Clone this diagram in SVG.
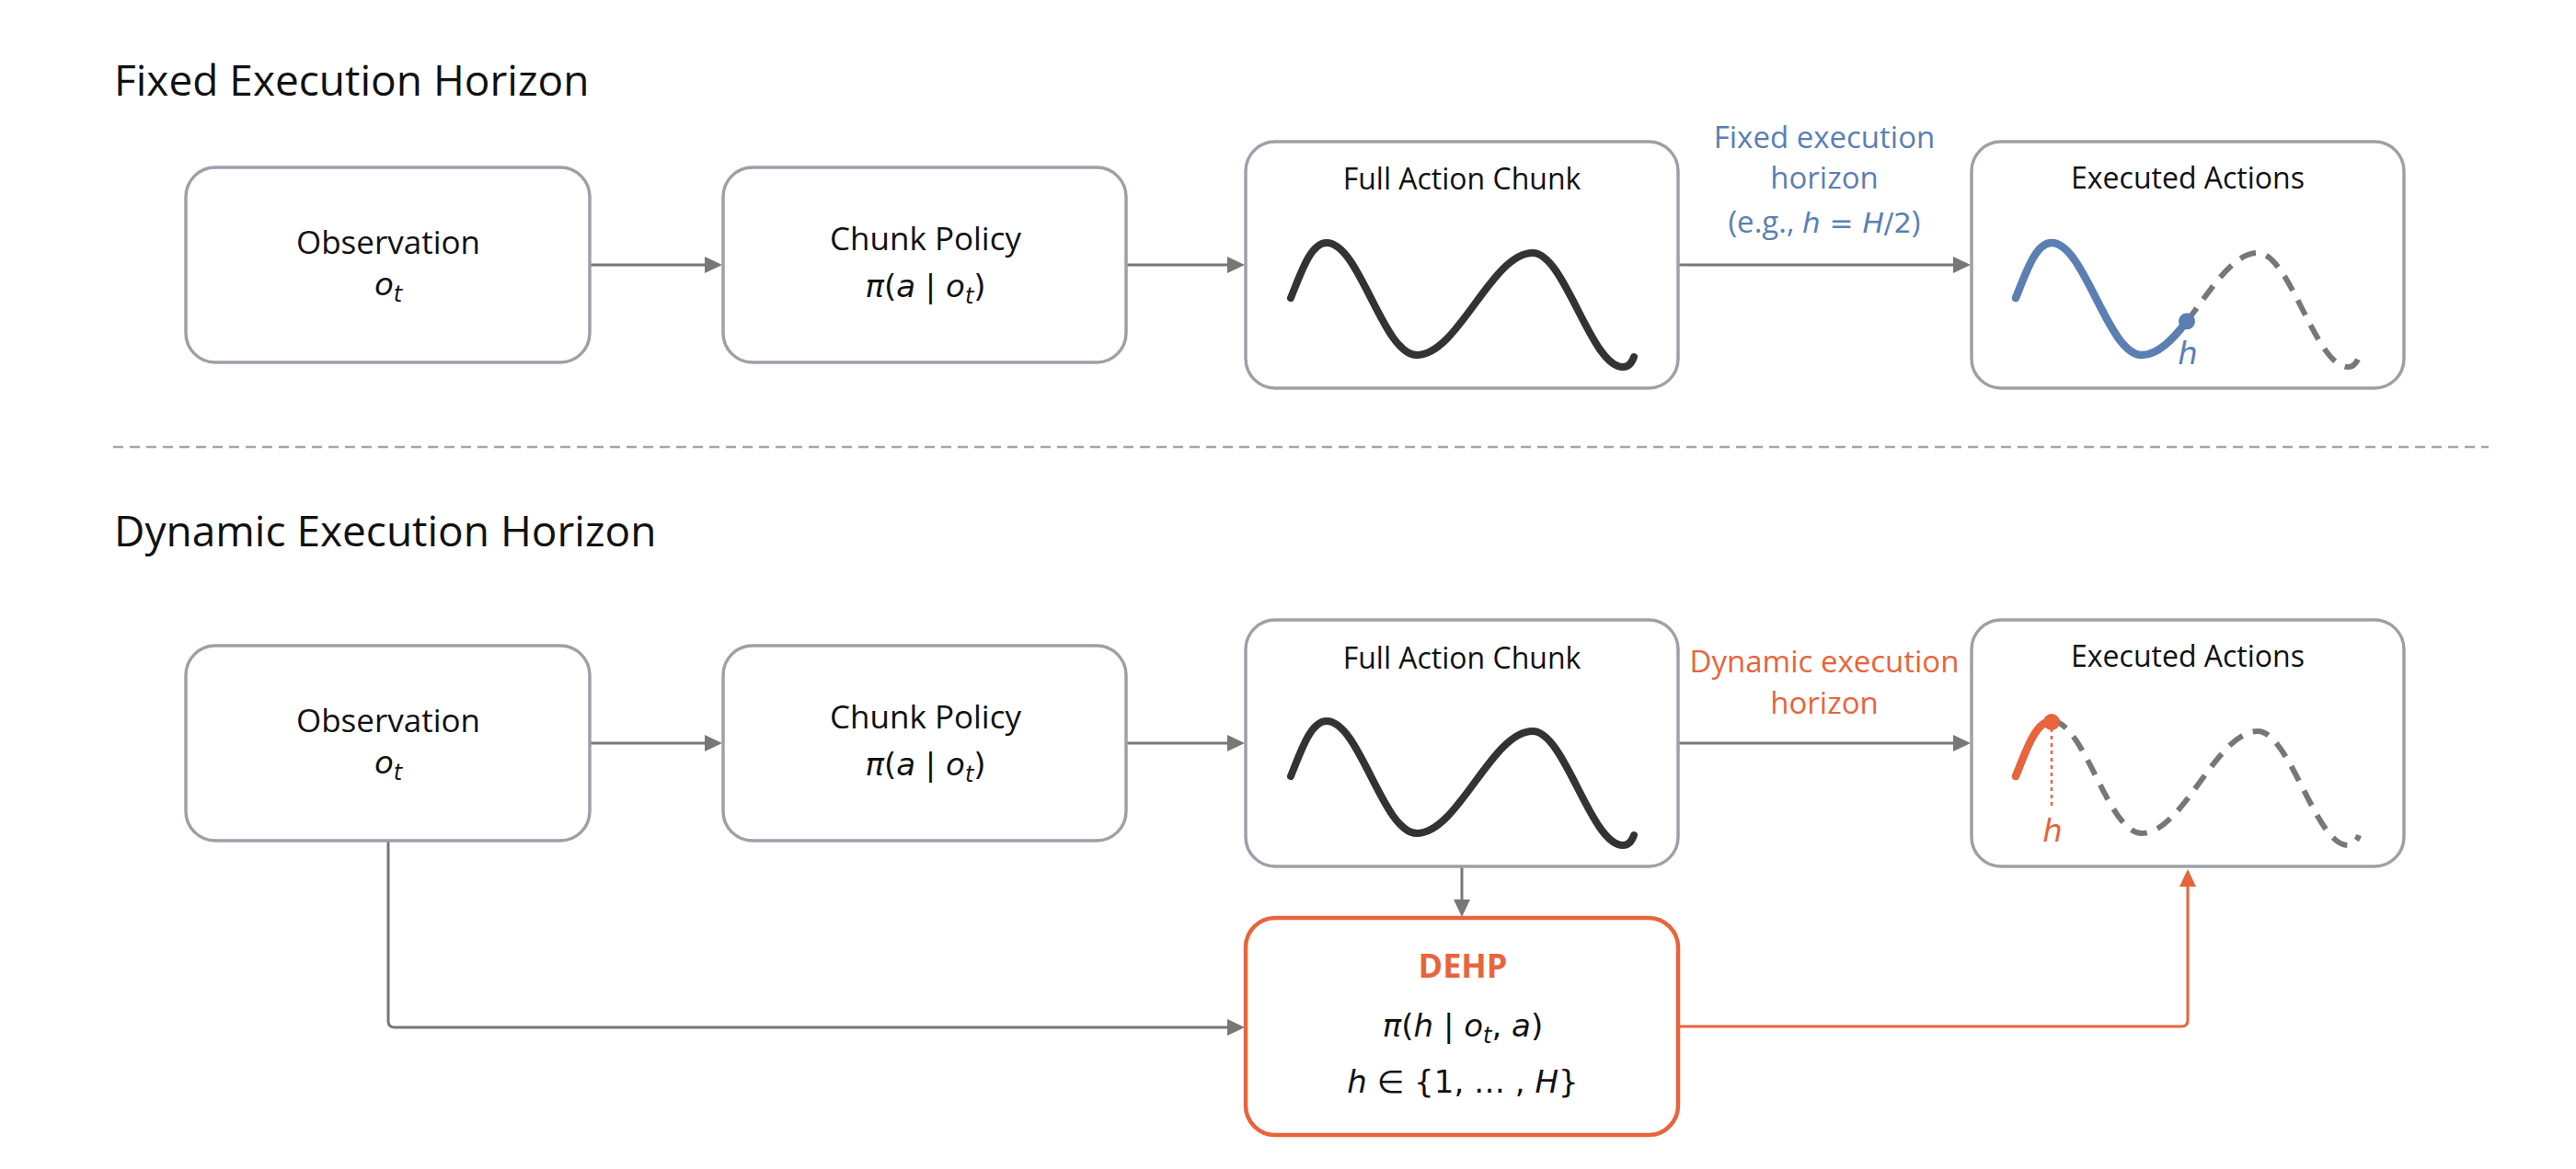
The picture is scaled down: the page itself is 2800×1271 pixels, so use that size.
<svg xmlns="http://www.w3.org/2000/svg" width="2800" height="1271" viewBox="0 0 2800 1271">
<defs>
<style>
.box{fill:#ffffff;stroke:#9ca1a8;stroke-width:3.5}
.dehp{fill:#ffffff;stroke:#e8643c;stroke-width:4.5}
.t{font-family:"Open Sans","Liberation Sans",sans-serif;fill:#111111;text-anchor:middle}
.title{font-family:"Open Sans","Liberation Sans",sans-serif;fill:#111111;font-size:46px}
.lbl{font-size:35px}
.hdr{font-size:32px}
.m{font-family:"DejaVu Sans",sans-serif;fill:#111111;text-anchor:middle;font-size:34px}
.it{font-style:italic}
.sub{font-size:24px}
.conn{fill:none;stroke:#777777;stroke-width:3}
.oconn{fill:none;stroke:#e8643c;stroke-width:3}
.wave{fill:none;stroke:#333333;stroke-width:8;stroke-linecap:round;stroke-linejoin:round}
.blue{fill:none;stroke:#5b7fb2;stroke-width:8.5;stroke-linecap:round}
.orange{fill:none;stroke:#e8643c;stroke-width:8.5;stroke-linecap:round}
.dash{fill:none;stroke:#777777;stroke-width:6;stroke-dasharray:18 12}
</style>
<marker id="ag" markerUnits="userSpaceOnUse" markerWidth="19" markerHeight="18" refX="1" refY="9" orient="auto">
<path d="M0 0 L19 9 L0 18 Z" fill="#777777"/>
</marker>
<marker id="ao" markerUnits="userSpaceOnUse" markerWidth="19" markerHeight="18" refX="1" refY="9" orient="auto">
<path d="M0 0 L19 9 L0 18 Z" fill="#e8643c"/>
</marker>
<path id="w" d="M0 0 C12 -30 22 -60 39 -60 C75 -60 100 62 137 62 C182 62 218 -49 263 -49 C298 -49 326 75 361 75 C367 75 371 70 373 64"/>
</defs>
<rect width="2800" height="1271" fill="#ffffff"/>

<text class="title" x="124" y="104">Fixed Execution Horizon</text>
<text class="title" x="124" y="594">Dynamic Execution Horizon</text>
<line x1="123" y1="486" x2="2705" y2="486" stroke="#a0a6b0" stroke-width="2.5" stroke-dasharray="11 7"/>

<g id="connectors">
<path class="conn" d="M641 288 H767" marker-end="url(#ag)"/>
<path class="conn" d="M1224 288 H1335" marker-end="url(#ag)"/>
<path class="conn" d="M1824 288 H2124" marker-end="url(#ag)"/>
<path class="conn" d="M641 808 H767" marker-end="url(#ag)"/>
<path class="conn" d="M1224 808 H1335" marker-end="url(#ag)"/>
<path class="conn" d="M1824 808 H2124" marker-end="url(#ag)"/>
<path class="conn" d="M1589 943 V979" marker-end="url(#ag)"/>
<path class="conn" d="M422 915 V1110 Q422 1117 429 1117 H1335" marker-end="url(#ag)"/>
<path class="oconn" d="M1826 1116 H2371 Q2378 1116 2378 1109 V963" marker-end="url(#ao)"/>
<text class="t" x="1983" y="161" font-size="33" style="fill:#5b7fb2">Fixed execution</text>
<text class="t" x="1983" y="205" font-size="33" style="fill:#5b7fb2">horizon</text>
<text class="t" x="1983" y="253" font-size="33" style="fill:#5b7fb2">(e.g., <tspan font-family="DejaVu Sans" font-style="italic" font-size="31">h</tspan><tspan font-family="DejaVu Sans" font-size="31"> = </tspan><tspan font-family="DejaVu Sans" font-style="italic" font-size="31">H</tspan><tspan font-family="DejaVu Sans" font-size="31">/2</tspan>)</text>
<text class="t" x="1983" y="731" font-size="33" style="fill:#e8643c">Dynamic execution</text>
<text class="t" x="1983" y="776" font-size="33" style="fill:#e8643c">horizon</text>
</g>

<g id="obs-fixed">
<rect class="box" x="202" y="182" width="439" height="212" rx="32"/>
<text class="t lbl" x="422" y="276">Observation</text>
<text class="m" x="422" y="321"><tspan class="it">o</tspan><tspan class="it sub" dy="7">t</tspan></text>
</g>
<g id="policy-fixed">
<rect class="box" x="786" y="182" width="438" height="212" rx="32"/>
<text class="t lbl" x="1006" y="272">Chunk Policy</text>
<text class="m" x="1006" y="323"><tspan class="it">π</tspan>(<tspan class="it">a</tspan> | <tspan class="it">o</tspan><tspan class="it sub" dy="7">t</tspan><tspan dy="-7">)</tspan></text>
</g>
<g id="chunk-fixed">
<rect class="box" x="1354" y="154" width="470" height="268" rx="32"/>
<text class="t hdr" x="1589" y="206">Full Action Chunk</text>
<use href="#w" class="wave" transform="translate(1403 324)"/>
</g>
<g id="exec-fixed">
<rect class="box" x="2143" y="154" width="470" height="268" rx="32"/>
<text class="t hdr" x="2378" y="205">Executed Actions</text>
<g transform="translate(2191 324)">
<path class="dash" d="M186 25.3 C211.04 -7.01 235.3 -49 263 -49 C298 -49 326 75 361 75 C367 75 371 70 373 64"/>
<path class="blue" d="M0 0 C12 -30 22 -60 39 -60 C75 -60 100 62 137 62 C154.3 62 170.3 45.55 186 25.3"/>
<circle cx="186" cy="25.3" r="9" fill="#5b7fb2"/>
</g>
<text class="m it" x="2378" y="396" style="fill:#5b7fb2">h</text>
</g>

<g id="obs-dynamic">
<rect class="box" x="202" y="702" width="439" height="212" rx="32"/>
<text class="t lbl" x="422" y="796">Observation</text>
<text class="m" x="422" y="841"><tspan class="it">o</tspan><tspan class="it sub" dy="7">t</tspan></text>
</g>
<g id="policy-dynamic">
<rect class="box" x="786" y="702" width="438" height="212" rx="32"/>
<text class="t lbl" x="1006" y="792">Chunk Policy</text>
<text class="m" x="1006" y="843"><tspan class="it">π</tspan>(<tspan class="it">a</tspan> | <tspan class="it">o</tspan><tspan class="it sub" dy="7">t</tspan><tspan dy="-7">)</tspan></text>
</g>
<g id="chunk-dynamic">
<rect class="box" x="1354" y="674" width="470" height="268" rx="32"/>
<text class="t hdr" x="1589" y="727">Full Action Chunk</text>
<use href="#w" class="wave" transform="translate(1403 844)"/>
</g>
<g id="exec-dynamic">
<rect class="box" x="2143" y="674" width="470" height="268" rx="32"/>
<text class="t hdr" x="2378" y="725">Executed Actions</text>
<g transform="translate(2191 844)">
<path class="dash" d="M39 -60 C75 -60 100 62 137 62 C182 62 218 -49 263 -49 C298 -49 326 75 361 75 C367 75 371 70 373 64"/>
<line x1="39" y1="-52" x2="39" y2="36" stroke="#e8643c" stroke-width="2.5" stroke-dasharray="4 4"/>
<path class="orange" d="M0 0 C12 -30 22 -60 39 -60"/>
<circle cx="39" cy="-59" r="9" fill="#e8643c"/>
</g>
<text class="m it" x="2231" y="915" style="fill:#e8643c">h</text>
</g>
<g id="dehp">
<rect class="dehp" x="1354" y="998" width="470" height="236" rx="32"/>
<text class="t" x="1590" y="1063" font-size="36" font-weight="bold" style="fill:#e8643c">DEHP</text>
<text class="m" x="1590" y="1127"><tspan class="it">π</tspan>(<tspan class="it">h</tspan> | <tspan class="it">o</tspan><tspan class="it sub" dy="7">t</tspan><tspan dy="-7">, </tspan><tspan class="it">a</tspan>)</text>
<text class="m" x="1590" y="1188"><tspan class="it">h</tspan> ∈ {1, … , <tspan class="it">H</tspan>}</text>
</g>
</svg>
